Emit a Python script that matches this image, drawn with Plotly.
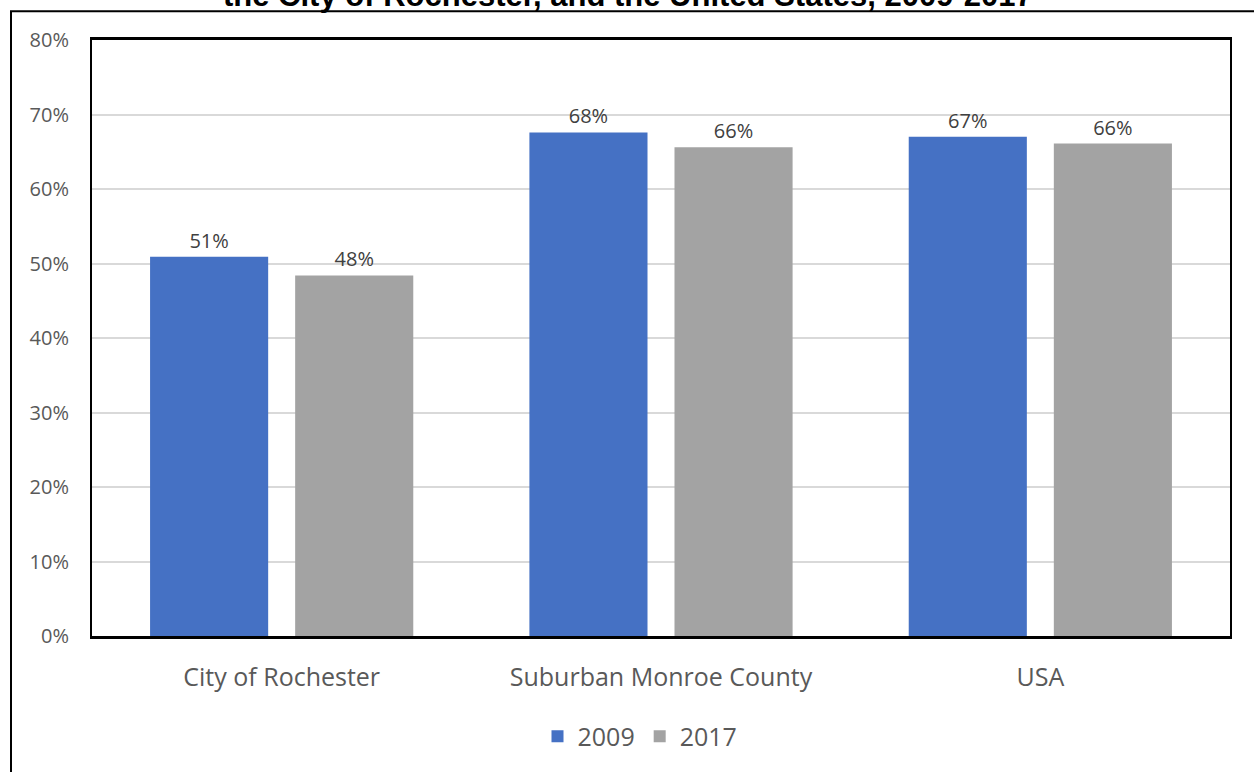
import plotly.graph_objects as go

categories = ["City of Rochester", "Suburban Monroe County", "USA"]
vals_2009 = [50.9, 67.6, 67.0]
vals_2017 = [48.4, 65.6, 66.1]
title_text = "the City of Rochester, and the United States, 2009-2017"

blue = "#4571C4"
gray = "#A3A3A3"
txt = "#595959"
font = "'Open Sans', sans-serif"

fig = go.Figure()
fig.add_trace(go.Bar(
    x=categories, y=vals_2009, name="2009",
    marker=dict(color=blue, line=dict(width=0)),
    text=[f"{v:.0f}%" for v in vals_2009], textposition="outside",
    textfont=dict(size=20, color="#404040", family=font), cliponaxis=False,
))
fig.add_trace(go.Bar(
    x=categories, y=vals_2017, name="2017",
    marker=dict(color=gray, line=dict(width=0)),
    text=[f"{v:.0f}%" for v in vals_2017], textposition="outside",
    textfont=dict(size=20, color="#404040", family=font), cliponaxis=False,
))

fig.update_layout(
    width=1254, height=772,
    margin=dict(l=92, r=24, t=40, b=133),
    paper_bgcolor="white", plot_bgcolor="white",
    barmode="group", bargap=0.235, bargroupgap=0.186,
    font=dict(family=font, color=txt),
    showlegend=True,
    legend=dict(orientation="h", x=(640 - 92) / 1138, xanchor="center", y=-0.13, yanchor="top",
                font=dict(size=25, color=txt), itemwidth=30),
)
fig.update_yaxes(
    range=[0, 80], dtick=10, ticksuffix="%",
    showgrid=True, gridcolor="#D9D9D9", gridwidth=1.5,
    tickfont=dict(size=20, color=txt), ticklabelstandoff=17,
    showline=True, linecolor="black", linewidth=2, mirror=True,
    zeroline=False,
)
fig.update_xaxes(
    tickfont=dict(size=25, color=txt), ticklabelstandoff=17,
    showline=True, linecolor="black", linewidth=3, mirror=True,
)

# outer chart border (left / top visible)
fig.add_shape(type="rect", xref="paper", yref="paper",
              x0=(11 - 92) / 1138, x1=(1262 - 92) / 1138,
              y0=-0.4, y1=1 + (40 - 11) / 599,
              line=dict(color="black", width=2), layer="below")

# clipped title at the top
fig.add_annotation(text="<b>" + title_text + "</b>", xref="paper", yref="paper",
                   x=(628 - 92) / 1138, y=1 + (40 - 15) / 599, yanchor="bottom",
                   showarrow=False,
                   font=dict(family="'Liberation Sans', Arial, sans-serif", size=31, color="black"))

fig.write_html("out.html", config={"displayModeBar": False},
               post_script="document.body.style.margin='0px';")
